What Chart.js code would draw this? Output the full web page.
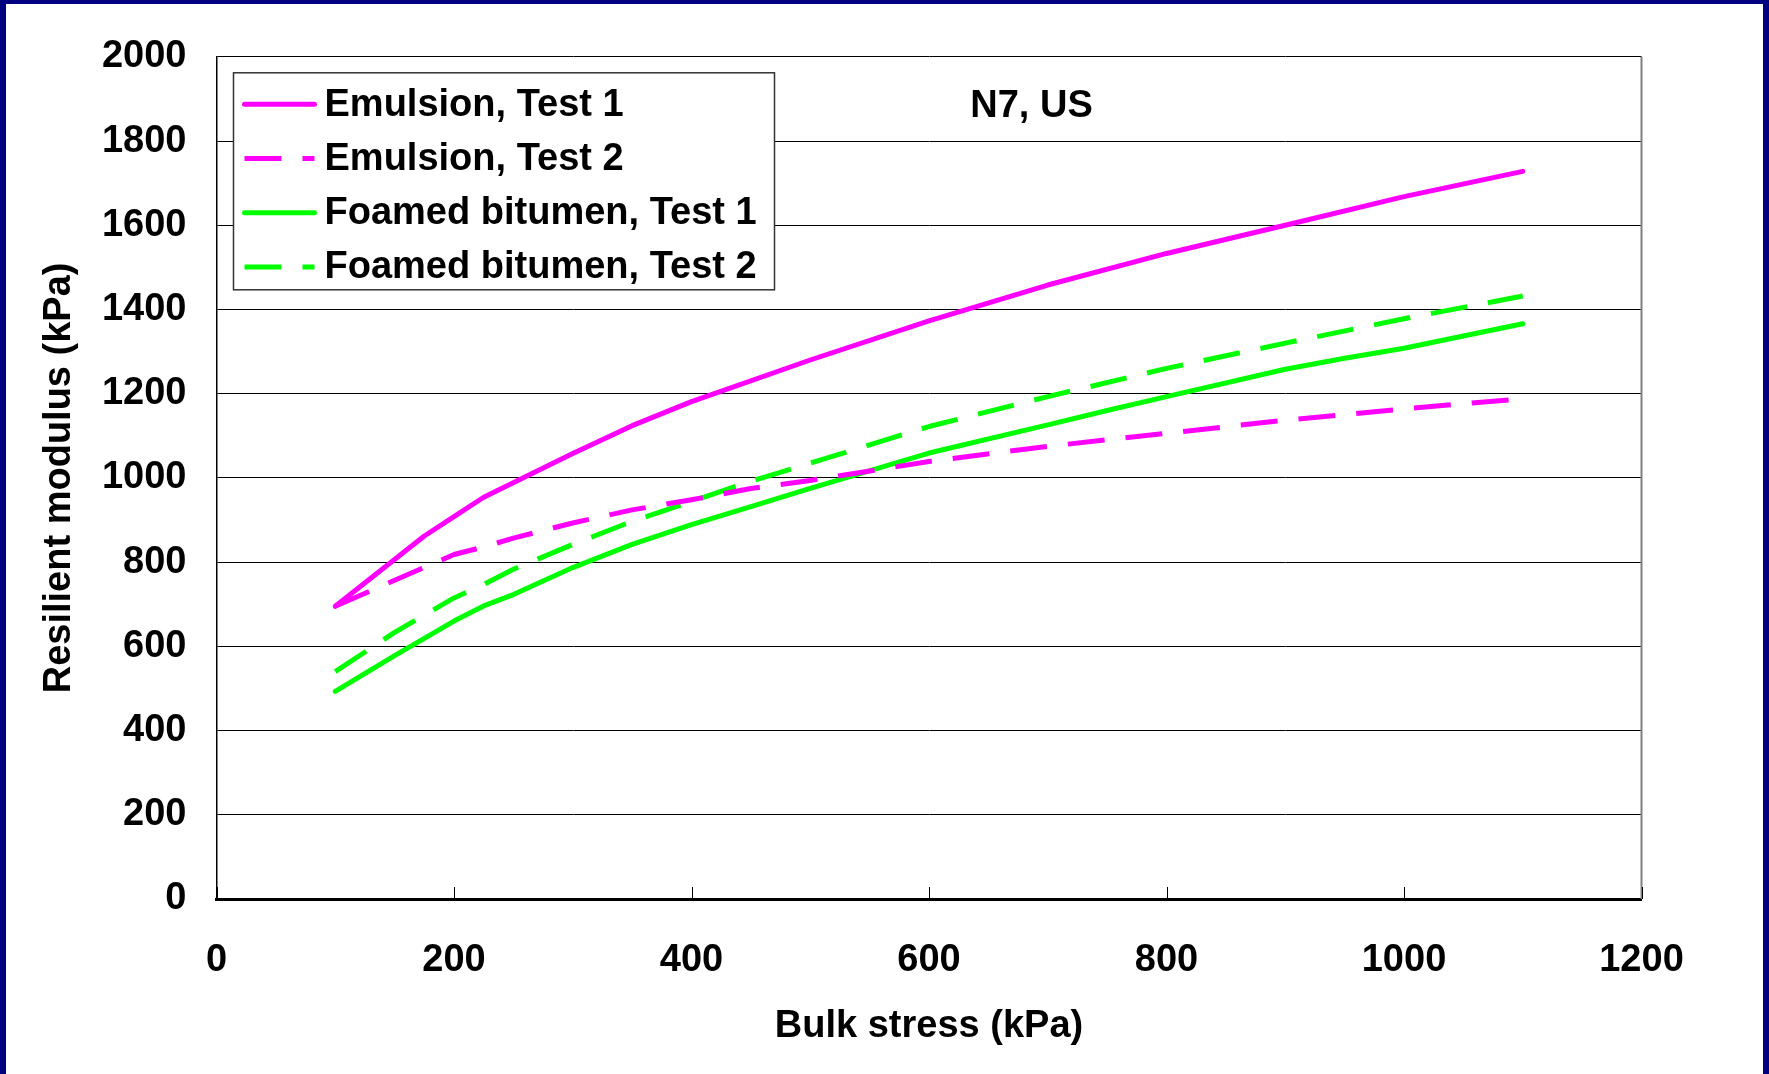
<!DOCTYPE html>
<html>
<head>
<meta charset="utf-8">
<script src="https://cdn.jsdelivr.net/npm/chart.js@4.4.1/dist/chart.umd.min.js"></script>
<style>
  html, body { margin: 0; padding: 0; background: #000080; }
  #wrap {
    position: absolute; left: 6px; top: 4px;
    width: 1757px; height: 1070px; background: #fff;
  }
</style>
</head>
<body>
<div id="wrap"><canvas id="chart"></canvas></div>
<script>
// --- data (bulk stress kPa -> resilient modulus kPa)
const emulsion1Stress  = [100, 175, 200, 225, 300, 350, 400, 500, 600, 700, 800, 900, 1000, 1100];
const emulsion1Modulus = [695, 862, 908, 954, 1058, 1124, 1181, 1280, 1373, 1458, 1533, 1600, 1668, 1728];

const emulsion2Stress  = [100, 150, 200, 225, 250, 300, 350, 400, 450, 500, 600, 700, 800, 900, 1000, 1100];
const emulsion2Modulus = [695, 757, 818, 836, 857, 893, 924, 948, 975, 994, 1039, 1075, 1106, 1137, 1164, 1188];

const foamed1Stress  = [100, 150, 200, 225, 250, 300, 350, 400, 450, 500, 600, 700, 750, 800, 900, 950, 1000, 1100];
const foamed1Modulus = [493, 578, 660, 696, 723, 787, 842, 889, 932, 975, 1059, 1126, 1160, 1193, 1258, 1284, 1308, 1366];

const foamed2Stress  = [100, 150, 200, 225, 250, 300, 350, 400, 450, 500, 600, 700, 800, 900, 1000, 1100];
const foamed2Modulus = [540, 633, 715, 747, 783, 842, 897, 944, 992, 1035, 1122, 1193, 1260, 1320, 1378, 1432];

const seriesLabels = ['Emulsion, Test 1', 'Emulsion, Test 2', 'Foamed bitumen, Test 1', 'Foamed bitumen, Test 2'];
const chartTitle = 'N7, US';
const xTitle = 'Bulk stress (kPa)';
const yTitle = 'Resilient modulus (kPa)';

const MAGENTA = '#ff00ff';
const GREEN = '#00ff00';
const DASH = [37, 21];
const FONT = { family: '"Liberation Sans", Arial, sans-serif', size: 38, weight: 'bold', lineHeight: 1.2 };

function pts(xs, ys) { return xs.map((x, i) => ({ x, y: ys[i] })); }

function lineSet(label, xs, ys, color, dashed) {
  return {
    label, data: pts(xs, ys),
    showLine: true, borderColor: color, backgroundColor: color,
    borderWidth: 5, pointRadius: 0, tension: 0,
    borderDash: dashed ? DASH : [],
    borderCapStyle: dashed ? 'butt' : 'round',
    borderJoinStyle: 'round'
  };
}

// legend box inside the plot, title text, inside tick marks, right frame
const extras = {
  id: 'extras',
  afterDatasetsDraw(chart) {
    const { ctx, chartArea: a, scales: { x } } = chart;
    ctx.save();

    // right frame line
    ctx.strokeStyle = '#808080';
    ctx.lineWidth = 2;
    ctx.beginPath();
    ctx.moveTo(a.right, a.top);
    ctx.lineTo(a.right, a.bottom);
    ctx.stroke();

    // inside ticks on x axis
    ctx.strokeStyle = '#000';
    ctx.lineWidth = 1;
    x.ticks.forEach(t => {
      const px = Math.round(x.getPixelForValue(t.value)) + 0.5;
      ctx.beginPath();
      ctx.moveTo(px, a.bottom);
      ctx.lineTo(px, a.bottom - 12);
      ctx.stroke();
    });

    // title text
    ctx.font = `bold ${FONT.size}px ${FONT.family}`;
    ctx.fillStyle = '#000';
    ctx.textAlign = 'center';
    ctx.textBaseline = 'middle';
    ctx.fillText(chartTitle, a.left + 815, a.top + 50);

    // legend
    const lx = a.left + 17, ly = a.top + 16, lw = 541, lh = 217;
    ctx.fillStyle = '#fff';
    ctx.fillRect(lx, ly, lw, lh);
    ctx.strokeStyle = '#333';
    ctx.lineWidth = 1.5;
    ctx.strokeRect(lx, ly, lw, lh);
    chart.data.datasets.forEach((ds, i) => {
      const cy = ly + 31.5 + i * 54.2;
      ctx.strokeStyle = ds.borderColor;
      ctx.lineWidth = ds.borderWidth;
      ctx.setLineDash(ds.borderDash);
      ctx.lineCap = ds.borderDash.length ? 'butt' : 'round';
      ctx.beginPath();
      ctx.moveTo(lx + 11, cy);
      ctx.lineTo(lx + 81, cy);
      ctx.stroke();
      ctx.setLineDash([]);
      ctx.fillStyle = '#000';
      ctx.textAlign = 'left';
      ctx.fillText(ds.label, lx + 91, cy + 1);
    });
    ctx.restore();
  }
};

new Chart(document.getElementById('chart'), {
  type: 'scatter',
  data: {
    datasets: [
      lineSet(seriesLabels[0], emulsion1Stress, emulsion1Modulus, MAGENTA, false),
      lineSet(seriesLabels[1], emulsion2Stress, emulsion2Modulus, MAGENTA, true),
      lineSet(seriesLabels[2], foamed1Stress, foamed1Modulus, GREEN, false),
      lineSet(seriesLabels[3], foamed2Stress, foamed2Modulus, GREEN, true)
    ]
  },
  options: {
    responsive: true, maintainAspectRatio: false, animation: false,
    layout: { padding: { left: 30.5, right: 121.5, top: 50, bottom: 25 } },
    plugins: { legend: { display: false }, tooltip: { enabled: false } },
    scales: {
      x: {
        type: 'linear', min: 0, max: 1200,
        afterFit: s => { s.height = 150; },
        ticks: { stepSize: 200, color: '#000', font: FONT, padding: 39, maxRotation: 0, callback: v => String(v) },
        grid: { display: false, drawTicks: false },
        border: { display: true, color: '#000', width: 3 },
        title: { display: true, text: xTitle, color: '#000', font: FONT, padding: 0 }
      },
      y: {
        type: 'linear', min: 0, max: 2000,
        afterFit: s => { s.width = 180; },
        ticks: { stepSize: 200, color: '#000', font: FONT, padding: 30, callback: v => String(v) },
        grid: { color: '#000', lineWidth: 1, drawTicks: false },
        border: { display: true, color: '#000', width: 1.5 },
        title: { display: true, text: yTitle, color: '#000', font: FONT, padding: 0 }
      }
    }
  },
  plugins: [extras]
});
</script>
</body>
</html>
